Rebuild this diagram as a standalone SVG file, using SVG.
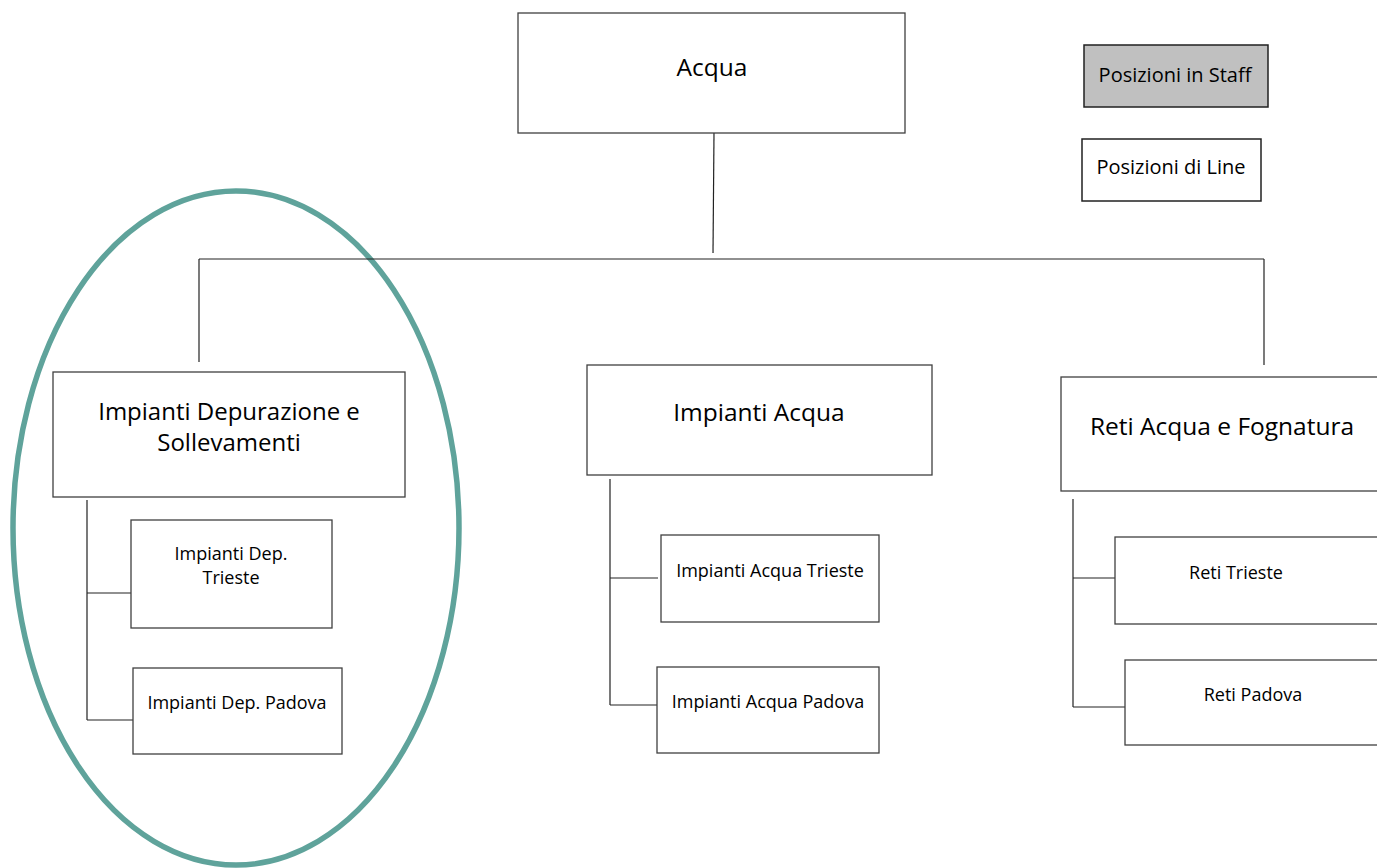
<svg xmlns="http://www.w3.org/2000/svg" width="1377" height="868" viewBox="0 0 1377 868">
  <style>
    .box { fill: #ffffff; stroke: #404040; stroke-width: 1.3; }
    .staff { fill: #c0c0c0; stroke: #202020; stroke-width: 1.5; }
    .legend { fill: #ffffff; stroke: #202020; stroke-width: 1.5; }
    .wire { fill: none; stroke: #222222; stroke-width: 1.2; }
    text { font-family: "Open Sans", "Noto Sans", sans-serif; fill: #000000; text-anchor: middle; }
    .t1 { font-size: 24.5px; }
    .t1s { font-size: 24px; }
    .t2 { font-size: 20px; }
    .t3 { font-size: 18px; }
  </style>

  <!-- highlight ring around the depurazione branch -->
  <ellipse id="highlight" cx="236" cy="528" rx="223" ry="337" fill="none" stroke="#5fa39b" stroke-width="5.5"/>

  <!-- connectors -->
  <g id="connectors">
    <path class="wire" d="M714 133 L713 253"/>
    <path class="wire" d="M199 259 H1264"/>
    <path class="wire" d="M199 259 V362"/>
    <path class="wire" d="M1264 259 V365"/>
    <path class="wire" d="M87 500 V720 M87 593 H131 M87 720 H133"/>
    <path class="wire" d="M610 479 V705 M610 578 H658 M610 705 H657"/>
    <path class="wire" d="M1073 499 V707 M1073 578 H1117 M1073 707 H1125"/>
  </g>

  <g id="acqua">
    <rect class="box" x="518" y="13" width="387" height="120"/>
    <text class="t1" x="712" y="76">Acqua</text>
  </g>

  <g id="legend-staff">
    <rect class="staff" x="1084" y="45" width="184" height="62"/>
    <text class="t2" x="1175" y="82">Posizioni in Staff</text>
  </g>

  <g id="legend-line">
    <rect class="legend" x="1082" y="139" width="179" height="62"/>
    <text class="t2" x="1171" y="174">Posizioni di Line</text>
  </g>

  <g id="impianti-depurazione">
    <rect class="box" x="53" y="372" width="352" height="125"/>
    <text class="t1s" x="229" y="420">Impianti Depurazione e</text>
    <text class="t1s" x="229" y="451">Sollevamenti</text>
  </g>

  <g id="dep-trieste">
    <rect class="box" x="131" y="520" width="201" height="108"/>
    <text class="t3" x="231" y="560">Impianti Dep.</text>
    <text class="t3" x="231" y="584">Trieste</text>
  </g>

  <g id="dep-padova">
    <rect class="box" x="133" y="668" width="209" height="86"/>
    <text class="t3" x="237" y="709">Impianti Dep. Padova</text>
  </g>

  <g id="impianti-acqua">
    <rect class="box" x="587" y="365" width="345" height="110"/>
    <text class="t1" x="759" y="421">Impianti Acqua</text>
  </g>

  <g id="acqua-trieste">
    <rect class="box" x="661" y="535" width="218" height="87"/>
    <text class="t3" x="770" y="577">Impianti Acqua Trieste</text>
  </g>

  <g id="acqua-padova">
    <rect class="box" x="657" y="667" width="222" height="86"/>
    <text class="t3" x="768" y="708">Impianti Acqua Padova</text>
  </g>

  <g id="reti-acqua-fognatura">
    <rect class="box" x="1061" y="377" width="330" height="114"/>
    <text class="t1" x="1222" y="435">Reti Acqua e Fognatura</text>
  </g>

  <g id="reti-trieste">
    <rect class="box" x="1115" y="537" width="276" height="87"/>
    <text class="t3" x="1236" y="579">Reti Trieste</text>
  </g>

  <g id="reti-padova">
    <rect class="box" x="1125" y="660" width="266" height="85"/>
    <text class="t3" x="1253" y="701">Reti Padova</text>
  </g>
</svg>
